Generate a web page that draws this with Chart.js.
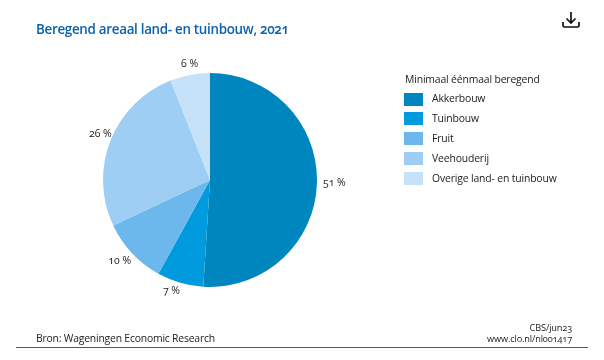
<!DOCTYPE html>
<html lang="nl">
<head>
<meta charset="utf-8">
<title>Beregend areaal land- en tuinbouw, 2021</title>
<script src="https://cdn.jsdelivr.net/npm/chart.js@4"></script>
<style>
  html, body { margin: 0; padding: 0; background: #fff; }
  body { position: relative; width: 604px; height: 360px; overflow: hidden; font-family: "Open Sans", "Noto Sans", sans-serif; font-feature-settings: "onum"; color: #222; }
  #pie { position: absolute; left: 0; top: 0; }
  .abs { position: absolute; white-space: nowrap; }
  #title { left: 36px; top: 19px; font-size: 13.400px; letter-spacing: -0.300px; line-height: 20px; font-weight: 600; color: #0b62ad; }
  #legend-title { left: 405px; top: 71.500px; font-size: 10.400px; letter-spacing: -0.150px; line-height: 15px; }
  .swatch { position: absolute; left: 404px; width: 19px; height: 13px; }
  .item { left: 432px; font-size: 10.400px; letter-spacing: -0.150px; line-height: 15px; }
  #source { left: 36px; top: 330.500px; font-size: 10.400px; letter-spacing: -0.200px; line-height: 15px; }
  #credit { right: 32px; top: 321.500px; text-align: right; font-size: 9.200px; letter-spacing: -0.150px; line-height: 11.500px; }
  #rule { position: absolute; left: 16px; top: 347px; width: 572px; height: 1px; background: #0f6f9e; }
  #dl { position: absolute; left: 560.500px; top: 9.500px; }
</style>
</head>
<body>
<canvas id="pie" width="604" height="360"></canvas>
<div class="abs" id="title">Beregend areaal land- en tuinbouw, 2021</div>
<svg id="dl" width="20" height="20" viewBox="0 0 20 20" fill="none" stroke="#111" stroke-width="1.7"><path d="M10 2v11M5.5 8.5 10 13l4.500-4.500M2 12v3.500q0 1.500 1.500 1.500h13q1.500 0 1.500-1.500V12"/></svg>
<div class="abs" id="legend-title">Minimaal éénmaal beregend</div>
<div id="legend"></div>
<div class="abs" id="source">Bron: Wageningen Economic Research</div>
<div class="abs" id="credit">CBS/jun23<br>www.clo.nl/nl001417</div>
<div id="rule"></div>
<script>
const categories = ['Akkerbouw', 'Tuinbouw', 'Fruit', 'Veehouderij', 'Overige land- en tuinbouw'];
const shares = [51, 7, 10, 26, 6];
const colors = ['#0086bf', '#009bde', '#6cb8ec', '#9ecef4', '#c6e2f8'];
// tweak per label, chart.js arc centre doesn't give the spot the original uses
const nudge = [[2, 0], [1, 4], [2, 5], [5, -5], [9, -7]];

const qs = (s) => document.querySelector(s);
qs('#legend').innerHTML = categories.map((c, i) => {
  const y = 92.500 + i * 19.900;
  return `<span class="swatch" style="top:${y}px;background:${colors[i]}"></span>` +
    `<div class="abs item" style="top:${y - 1.500}px">${c}</div>`;
}).join('');

const pieLabels = {
  id: 'pieLabels',
  afterDatasetsDraw(chart) {
    const { ctx } = chart;
    ctx.save();
    ctx.font = '10.500px "Open Sans", "Noto Sans", sans-serif';
    ctx.fillStyle = '#222';
    ctx.textBaseline = 'middle';
    chart.getDatasetMeta(0).data.forEach((arc, i) => {
      const a = (arc.startAngle + arc.endAngle) / 2;
      const r = arc.outerRadius + 4;
      const x = arc.x + Math.cos(a) * r + nudge[i][0];
      const y = arc.y + Math.sin(a) * r + nudge[i][1];
      ctx.textAlign = Math.cos(a) >= 0 ? 'left' : 'right';
      ctx.fillText(shares[i] + ' %', x, y);
    });
    ctx.restore();
  }
};

new Chart(qs('#pie'), {
  type: 'pie',
  data: { labels: categories, datasets: [{ data: shares, backgroundColor: colors, borderWidth: 0 }] },
  options: {
    responsive: false,
    animation: false,
    layout: { padding: { left: 103, right: 287, top: 73, bottom: 73 } },
    plugins: { legend: { display: false }, tooltip: { enabled: false } }
  },
  plugins: [pieLabels]
});
</script>
</body>
</html>
